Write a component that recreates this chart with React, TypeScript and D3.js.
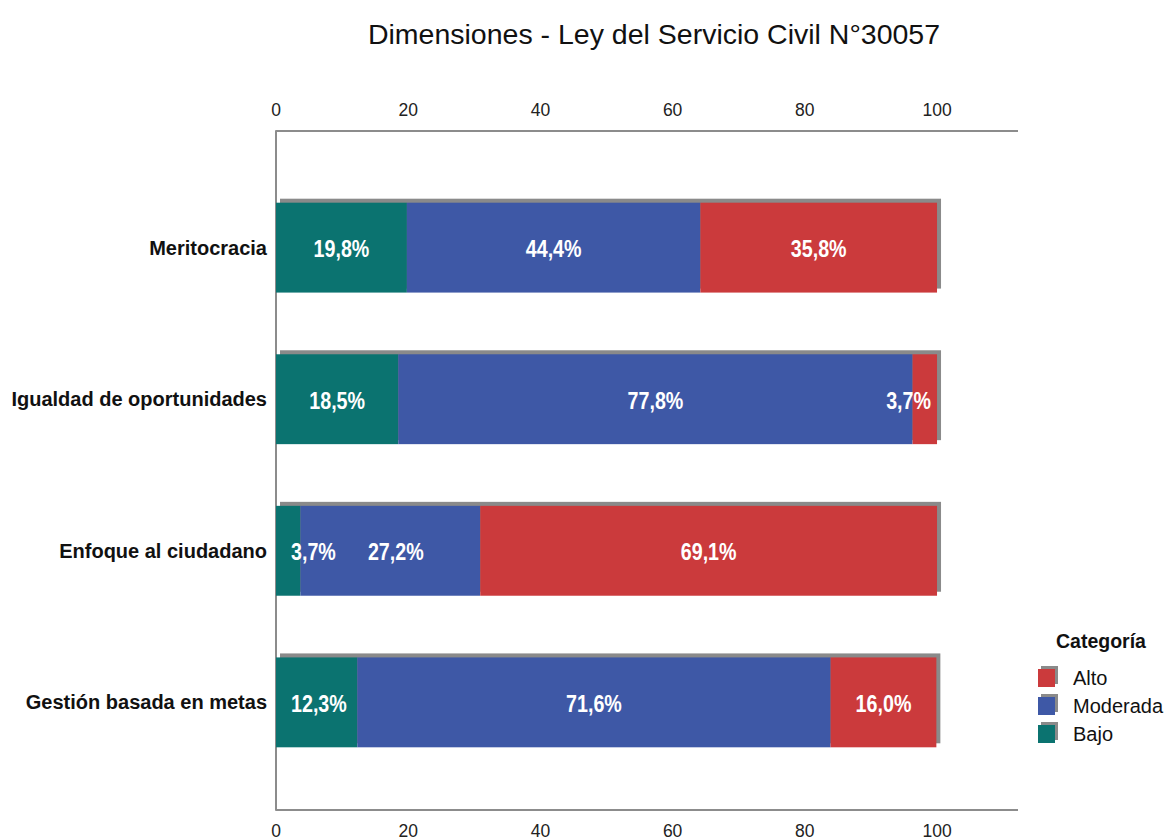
import { useEffect, useRef } from "react";
import * as d3 from "d3";

// data
const categories = [
  "Meritocracia",
  "Igualdad de oportunidades",
  "Enfoque al ciudadano",
  "Gestión basada en metas",
];
const bajo = [19.8, 18.5, 3.7, 12.3];
const moderada = [44.4, 77.8, 27.2, 71.6];
const alto = [35.8, 3.7, 69.1, 16.0];
const seriesKeys = ["Bajo", "Moderada", "Alto"];
const legendOrder = ["Alto", "Moderada", "Bajo"];
const xTicks = [0, 20, 40, 60, 80, 100];

const colors: Record<string, string> = {
  Bajo: "#0b7370",
  Moderada: "#3e58a6",
  Alto: "#cb3a3c",
};

const App: React.FC = () => {
  const svgRef = useRef<SVGSVGElement>(null);

  useEffect(() => {
    if (!svgRef.current) return;
    document.body.style.margin = "0";

    const width = 1169;
    const height = 840;
    const svg = d3.select(svgRef.current);
    svg.selectAll("*").remove();
    svg.attr("width", width).attr("height", height);

    const plot = { left: 276, right: 1018, top: 131, bottom: 810 };
    const fontMain = "'Liberation Sans', Arial, sans-serif";
    const narrow = 0.82; // labels inside bars are a condensed face

    const rows = categories.map((c, i) => ({
      cat: c,
      Bajo: bajo[i],
      Moderada: moderada[i],
      Alto: alto[i],
    }));

    const x = d3.scaleLinear().domain([0, 112.25]).range([plot.left, plot.right]);
    const y = d3
      .scaleBand()
      .domain(categories)
      .range([136, 814])
      .paddingInner(0.407)
      .paddingOuter(0.44);

    const stacked = d3.stack<any>().keys(seriesKeys)(rows);

    // title
    svg
      .append("text")
      .attr("x", 654)
      .attr("y", 44)
      .attr("text-anchor", "middle")
      .attr("font-family", fontMain)
      .attr("font-size", 28.5)
      .attr("fill", "#111")
      .text("Dimensiones - Ley del Servicio Civil N°30057");

    // frame
    const frame = d3.path();
    frame.moveTo(plot.right, plot.top);
    frame.lineTo(plot.left, plot.top);
    frame.lineTo(plot.left, plot.bottom);
    frame.lineTo(plot.right, plot.bottom);
    svg
      .append("path")
      .attr("d", frame.toString())
      .attr("fill", "none")
      .attr("stroke", "#8c8c8c")
      .attr("stroke-width", 2)
      .attr("stroke-linejoin", "round");

    // tick labels top and bottom
    [plot.top - 15, plot.bottom + 27].forEach((ty) => {
      svg
        .append("g")
        .selectAll("text")
        .data(xTicks)
        .join("text")
        .attr("x", (d) => x(d))
        .attr("y", ty)
        .attr("text-anchor", "middle")
        .attr("font-family", fontMain)
        .attr("font-size", 17.5)
        .attr("fill", "#222")
        .text((d) => d);
    });

    // category labels
    svg
      .append("g")
      .selectAll("text")
      .data(categories)
      .join("text")
      .attr("x", plot.left - 9)
      .attr("y", (d) => (y(d) ?? 0) + y.bandwidth() / 2)
      .attr("dy", "0.35em")
      .attr("text-anchor", "end")
      .attr("font-family", fontMain)
      .attr("font-weight", "bold")
      .attr("font-size", 20)
      .attr("fill", "#111")
      .text((d) => d);

    // bar shadows
    svg
      .append("g")
      .selectAll("rect")
      .data(rows)
      .join("rect")
      .attr("x", x(0) + 4)
      .attr("y", (d) => (y(d.cat) ?? 0) - 4)
      .attr("width", (d) => x(d.Bajo + d.Moderada + d.Alto) - x(0))
      .attr("height", y.bandwidth())
      .attr("fill", "#8a8a8a");

    // bar segments
    stacked.forEach((layer) => {
      svg
        .append("g")
        .selectAll("rect")
        .data(layer)
        .join("rect")
        .attr("x", (d) => x(d[0]))
        .attr("y", (d) => y(d.data.cat) ?? 0)
        .attr("width", (d) => x(d[1]) - x(d[0]))
        .attr("height", y.bandwidth())
        .attr("fill", colors[layer.key]);
    });

    // value labels
    const fmt = (v: number) => d3.format(".1f")(v).replace(".", ",") + "%";
    rows.forEach((row, i) => {
      const cy = (y(row.cat) ?? 0) + y.bandwidth() / 2;
      let prevRight = -Infinity;
      stacked.forEach((layer) => {
        const seg = layer[i];
        const g = svg.append("g");
        const t = g
          .append("text")
          .attr("x", 0)
          .attr("y", 0)
          .attr("dy", "0.4em")
          .attr("text-anchor", "middle")
          .attr("font-family", fontMain)
          .attr("font-weight", "bold")
          .attr("font-size", 24)
          .attr("fill", "#fff")
          .text(fmt(seg[1] - seg[0]));
        const w = (t.node() as SVGTextElement).getComputedTextLength() * narrow;
        let cx = (x(seg[0]) + x(seg[1])) / 2;
        cx = Math.max(cx, x(0) + 15 + w / 2);
        cx = Math.min(cx, x(100) - 6 - w / 2);
        if (cx - w / 2 < prevRight + 32) cx = prevRight + 32 + w / 2;
        prevRight = cx + w / 2;
        g.attr("transform", `translate(${cx},${cy}) scale(${narrow},1)`);
      });
    });

    // legend
    const legend = svg.append("g").attr("transform", "translate(1038,0)");
    legend
      .append("text")
      .attr("x", 18)
      .attr("y", 648)
      .attr("font-family", fontMain)
      .attr("font-weight", "bold")
      .attr("font-size", 19.5)
      .attr("fill", "#111")
      .text("Categoría");
    legendOrder.forEach((key, i) => {
      const cy = 678 + i * 28;
      legend
        .append("rect")
        .attr("x", 3)
        .attr("y", cy - 12)
        .attr("width", 17)
        .attr("height", 18)
        .attr("fill", "#8a8a8a");
      legend
        .append("rect")
        .attr("x", 0)
        .attr("y", cy - 9)
        .attr("width", 17)
        .attr("height", 18)
        .attr("fill", colors[key]);
      legend
        .append("text")
        .attr("x", 35)
        .attr("y", cy)
        .attr("dy", "0.35em")
        .attr("font-family", fontMain)
        .attr("font-size", 20)
        .attr("fill", "#111")
        .text(key);
    });
  }, []);

  return <svg ref={svgRef} style={{ display: "block" }}></svg>;
};

export default App;
